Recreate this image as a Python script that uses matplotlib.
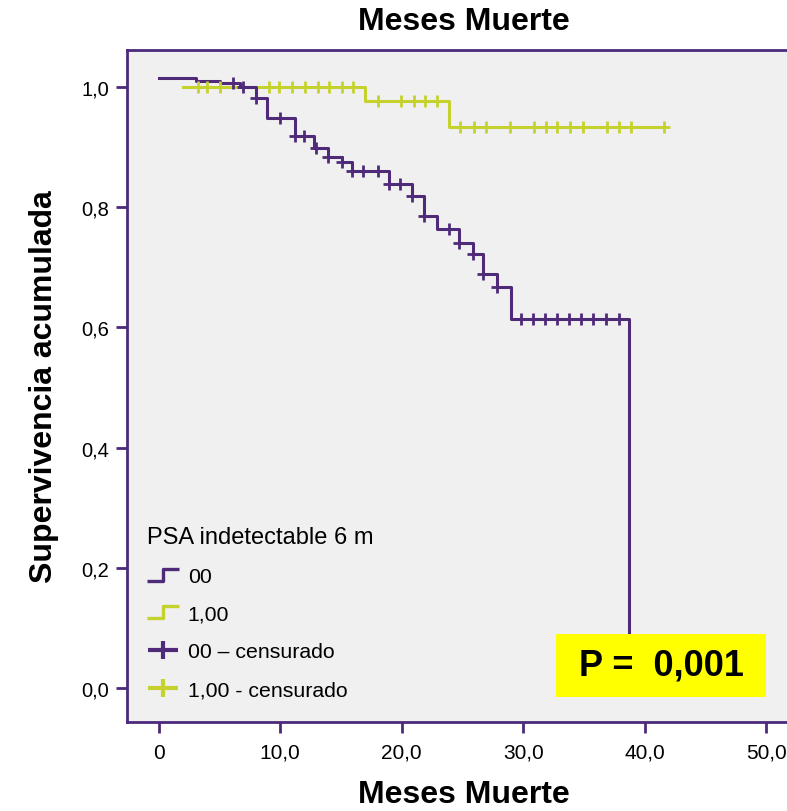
import matplotlib
matplotlib.use('Agg')
import matplotlib.pyplot as plt
import numpy as np
from matplotlib.lines import Line2D
from matplotlib.path import Path
from matplotlib.patches import Rectangle
from matplotlib import font_manager

# grupo "00": tiempos de evento y supervivencia acumulada
t00 = [0.0, 3.07, 5.05, 6.69, 8.0, 8.89, 11.22, 12.78, 13.93, 15.06, 15.88,
       18.98, 20.82, 21.86, 22.93, 24.74, 25.89, 26.67, 27.82, 28.97, 38.71]
s00 = [1.0145, 1.0105, 1.0067, 1.0, 0.981, 0.949, 0.919, 0.899, 0.884, 0.875, 0.861,
       0.839, 0.819, 0.786, 0.764, 0.740, 0.722, 0.689, 0.668, 0.614, 0.0]
cens00 = [6.09, 6.91, 8.0, 9.98, 11.22, 11.96, 12.92, 13.93, 15.06, 15.88, 16.84,
          18.02, 18.98, 19.86, 20.82, 21.86, 23.92, 24.74, 25.89, 26.67, 27.82,
          29.82, 30.78, 31.79, 32.81, 33.79, 34.75, 35.77, 36.83, 37.91]

# grupo "1,00"
t1 = [2.0, 17.02, 23.92]
s1 = [1.0, 0.977, 0.933]
cens1 = [3.2, 3.97, 5.05, 9.06, 9.93, 10.97, 12.04, 13.11, 14.02, 15.09, 16.02,
         18.02, 19.94, 21.0, 21.9, 22.9, 24.77, 25.95, 26.95, 28.93, 30.93, 31.88,
         32.79, 33.86, 34.93, 36.9, 37.9, 38.89, 41.57]

xticks = [0, 10, 20, 30, 40, 50]
xtick_labels = ['0', '10,0', '20,0', '30,0', '40,0', '50,0']
yticks = [0.0, 0.2, 0.4, 0.6, 0.8, 1.0]
ytick_labels = ['0,0', '0,2', '0,4', '0,6', '0,8', '1,0']

PURPLE = '#4E2A78'
YELLOW = '#C5D22E'
SPINE = '#4B2A7B'

names = {f.name for f in font_manager.fontManager.ttflist}
NARROW = 'Liberation Sans Narrow' if 'Liberation Sans Narrow' in names else 'Liberation Sans'
plt.rcParams['font.family'] = ['Liberation Sans', 'DejaVu Sans']

fig = plt.figure(figsize=(7.87, 8.12), dpi=100)
ax = fig.add_axes([0.1614, 0.1096, 0.855, 0.8276])
ax.set_facecolor('#F0F0F0')


def level_at(times, levels, t):
    idx = np.searchsorted(times, t, side='right') - 1
    return np.asarray(levels)[idx]


# curvas escalonadas
ax.step(t00, s00, where='post', color=PURPLE, linewidth=2.2, zorder=3)
ax.step(t1 + [cens1[-1]], s1 + [s1[-1]], where='post', color=YELLOW, linewidth=2.2, zorder=2)

# marcas de censura
ax.plot(cens00, level_at(t00, s00, cens00), linestyle='None', marker='+',
        markersize=8, markeredgewidth=2, color=PURPLE, zorder=4)
ax.plot(cens1, level_at(t1, s1, cens1), linestyle='None', marker='+',
        markersize=8, markeredgewidth=2, color=YELLOW, zorder=3)

ax.set_xlim(-2.61, 52.78)
ax.set_ylim(-0.0566, 1.0616)
ax.set_xticks(xticks)
ax.set_xticklabels(xtick_labels, family=NARROW, fontsize=15)
ax.set_yticks(yticks)
ax.set_yticklabels(ytick_labels, fontsize=14.5)
ax.tick_params(axis='both', direction='out', length=8, width=2, color=SPINE)
ax.tick_params(axis='x', pad=7)
ax.tick_params(axis='y', pad=5)
for sp in ax.spines.values():
    sp.set_color(SPINE)
    sp.set_linewidth(2)

ax.set_ylabel('Supervivencia acumulada', fontsize=23, fontweight='bold', labelpad=16)
fig.text(0.59, 0.973, 'Meses Muerte', family=NARROW, fontsize=23, fontweight='bold',
         ha='center', va='center')
fig.text(0.59, 0.021, 'Meses Muerte', family=NARROW, fontsize=23, fontweight='bold',
         ha='center', va='center')

# leyenda
step_path = Path([(-1, -0.4), (0, -0.4), (0, 0.4), (1, 0.4)],
                 [Path.MOVETO, Path.LINETO, Path.LINETO, Path.LINETO])
plus_path = Path([(-1, 0), (1, 0), (0, -0.6), (0, 0.6)],
                 [Path.MOVETO, Path.LINETO, Path.MOVETO, Path.LINETO])
handles = [
    Line2D([], [], linestyle='None', marker=step_path, markersize=23,
           markerfacecolor='none', markeredgecolor=PURPLE, markeredgewidth=2.4),
    Line2D([], [], linestyle='None', marker=step_path, markersize=23,
           markerfacecolor='none', markeredgecolor=YELLOW, markeredgewidth=2.4),
    Line2D([], [], linestyle='None', marker=plus_path, markersize=21,
           markerfacecolor='none', markeredgecolor=PURPLE, markeredgewidth=3),
    Line2D([], [], linestyle='None', marker=plus_path, markersize=21,
           markerfacecolor='none', markeredgecolor=YELLOW, markeredgewidth=3),
]
labels = ['00', '1,00', '00 – censurado', '1,00 - censurado']
leg = ax.legend(handles, labels, title='PSA indetectable 6 m', loc='lower left',
                bbox_to_anchor=(0.008, 0.012), frameon=False, fontsize=15.3,
                title_fontsize=17, alignment='left', handlelength=1.5,
                handletextpad=0.4, labelspacing=0.88, borderpad=0.2)

# recuadro del valor p
ax.add_patch(Rectangle((0.6374, 0.0372), 0.312, 0.09375, transform=ax.transAxes,
                       facecolor='#FFFF00', edgecolor='none', zorder=6, clip_on=False))
ax.text(0.7935, 0.0841, 'P =  0,001', transform=ax.transAxes, fontsize=26,
        fontweight='bold', ha='center', va='center', zorder=7)

fig.savefig('out.png', dpi=100)
